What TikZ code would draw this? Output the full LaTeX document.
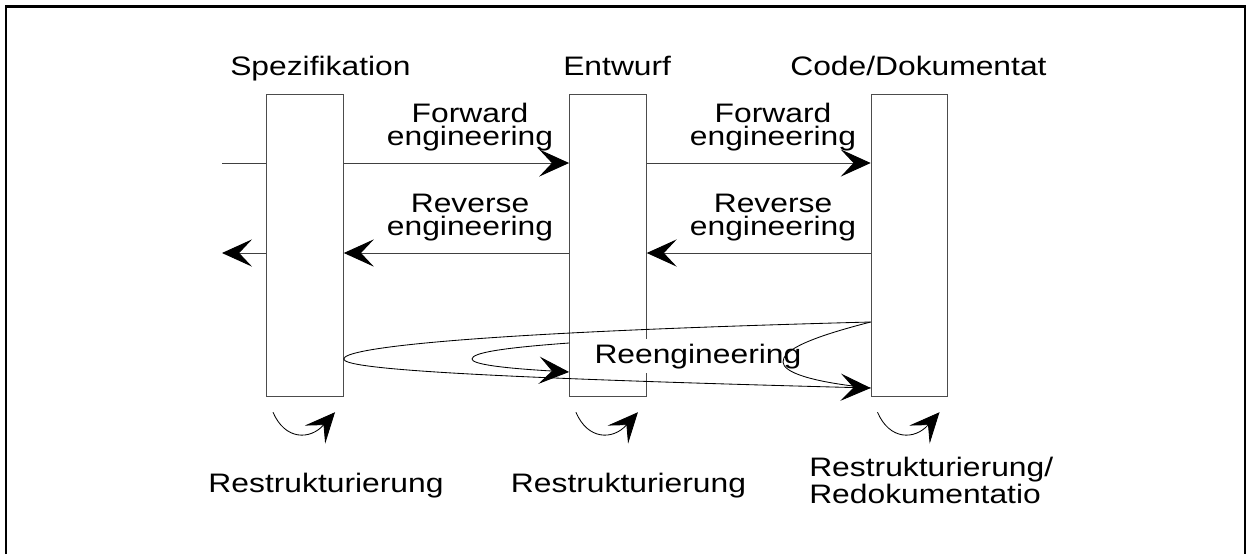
\documentclass[tikz,border=0pt]{standalone}
\usepackage{fontspec}
\setmainfont{Liberation Sans}[FakeStretch=1.19]
\usetikzlibrary{arrows.meta}

\begin{document}
\begin{tikzpicture}[x=0.025cm,y=-0.025cm,font=\fontsize{19}{16}\selectfont,
  phase/.style={draw=black!70,fill=white,line width=0.7pt,minimum width=1.915cm,minimum height=7.56cm,inner sep=0pt},
  wire/.style={draw=black!75,line width=0.7pt},
  flow/.style={wire,-{Stealth[length=7.5mm,width=6.8mm,inset=3.2mm,color=black]}},
  hairpin/.style={draw=black,line width=0.6pt},
  curl/.style={hairpin,-{Stealth[length=7.5mm,width=6.8mm,inset=3.2mm]}},
  lbl/.style={inner sep=0pt,anchor=base,align=center}]

\useasboundingbox (0,0) rectangle (1247,554);
\draw[line width=1.8pt] (6,554) -- (6,6.5) -- (1245,6.5) -- (1245,554);

% phases
\node[phase] (spez) at (305,245.5) {};
\node[phase] (entw) at (607.9,245.5) {};
\node[phase] (code) at (909.5,245.5) {};

\node[lbl,anchor=base west] (tspez) at (230,75) {Spezifikation};
\node[lbl,anchor=base west] (tentw) at (563,75) {Entwurf};
\node[lbl,anchor=base west] (tcode) at (790,75) {Code/Dokumentat};

% forward / reverse
\coordinate (in) at (222,163);
\coordinate (out) at (222,253);

\draw[wire] (in) -- (spez.west |- in);
\draw[flow] (spez.east |- in) -- (entw.west |- in);
\draw[flow] (entw.east |- in) -- (code.west |- in);
\draw[flow] (code.west |- out) -- (entw.east |- out);
\draw[flow] (entw.west |- out) -- (spez.east |- out);
\draw[flow] (spez.west |- out) -- (out);

\node[lbl] (fw1) at (470,145) {Forward\\engineering};
\node[lbl] (fw2) at (773,145) {Forward\\engineering};
\node[lbl] (rv1) at (470,235) {Reverse\\engineering};
\node[lbl] (rv2) at (773,235) {Reverse\\engineering};

% reengineering
\node[fill=white,inner sep=3pt,anchor=base west] (reeng) at (590,363) {Reengineering};

\coordinate (rtop) at (0,322);
\coordinate (rmid) at (0,359);
\coordinate (rbot) at (0,388);
\coordinate (mtop) at (0,343);
\coordinate (mbot) at (0,372);

\draw[curl] (code.west |- rtop) .. controls (450,333) and (343.3,349) .. (spez.east |- rmid)
  .. controls (343.3,368) and (450,377) .. (code.west |- rbot);
\draw[hairpin] (code.west |- rtop) .. controls (800,340) and (783,352) .. (783,362)
  .. controls (783,372) and (810,382) .. (code.west |- rbot);
\draw[curl] (entw.west |- mtop) .. controls (500,348) and (472,353) .. (472,359)
  .. controls (472,364) and (500,368) .. (entw.west |- mbot);

% restructuring
\foreach \b in {spez,entw,code}
  \draw[curl,shift={(\b.south)}] (-32,15) .. controls (-20,43) and (5,43) .. (30,15);

\node[lbl] (rs1) at (326,492) {Restrukturierung};
\node[lbl] (rs2) at (628.5,492) {Restrukturierung};
\node[lbl,anchor=base west,align=left] (rs3) at (809,503) {Restrukturierung/\\Redokumentatio};
\end{tikzpicture}
\end{document}
